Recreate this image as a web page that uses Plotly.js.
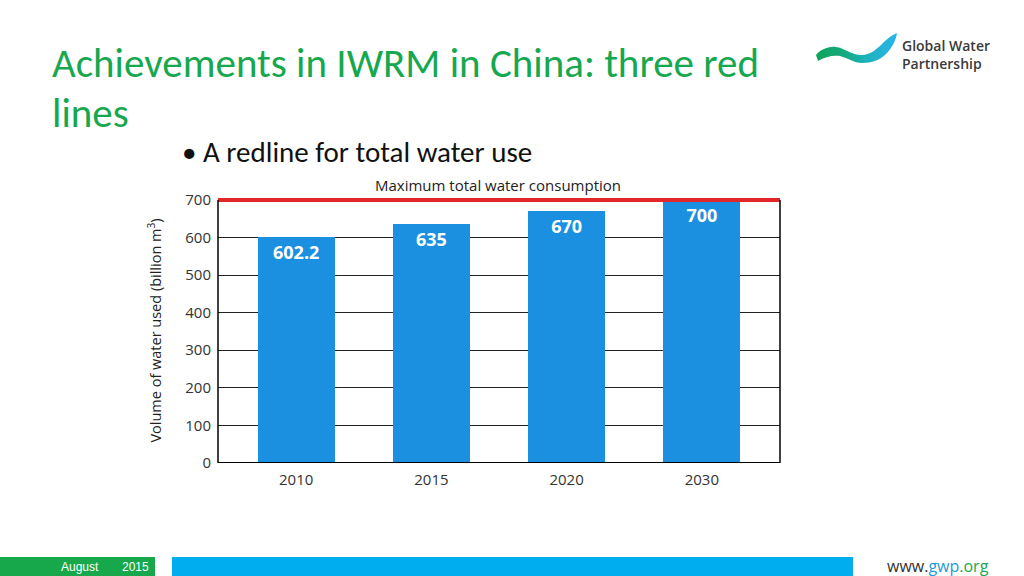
<!DOCTYPE html>
<html><head><meta charset="utf-8">
<script src="https://cdn.plot.ly/plotly-3.0.1.min.js"></script>
<style>
html,body{margin:0;padding:0;background:#fff;width:1024px;height:576px;overflow:hidden;}
#wrap{position:relative;width:1024px;height:576px;}
#chart{position:absolute;left:0;top:0;width:1024px;height:576px;}
#logo{position:absolute;left:0;top:0;pointer-events:none;}
</style></head>
<body><div id="wrap"><div id="chart"></div>
<svg id="logo" width="1024" height="120" viewBox="0 0 1024 120">
<defs><linearGradient id="g" gradientUnits="userSpaceOnUse" x1="815" x2="897" y1="0" y2="0">
<stop offset="0" stop-color="#0ea55a"/><stop offset="0.35" stop-color="#14a97c"/><stop offset="0.6" stop-color="#1bb2b8"/><stop offset="1" stop-color="#2ab4ec"/></linearGradient></defs>
<path d="M816,55 C820,50 828,46 836,47 C844,48 850,54 860,55 C870,56 878,48 884,42 C888,38 892,35 897,33 C896,40 892,48 886,54 C880,60 872,63 862,63 C854,63 848,58 840,56 C832,55 825,57 818,61 Z" fill="url(#g)"/>
</svg>
</div>
<script>
const years = ['2010', '2015', '2020', '2030'];
const waterUse = [602.2, 635, 670, 700];
const barLabels = ['602.2', '635', '670', '700'];
const redline = 700;
const yTicks = [0, 100, 200, 300, 400, 500, 600, 700];

const L = 218, R = 780, T = 198, B = 463;
const yMax = 705;
const px = x => (x - L) / (R - L);
const py = y => (B - y) / (B - T);
const xpos = years.map((_, i) => i);
const xr = [-0.578, 3.578];

const bars = {
  type: 'bar', x: xpos, y: waterUse, width: 0.57,
  marker: {color: '#1b90e0'},
  text: barLabels, textposition: 'inside', insidetextanchor: 'end',
  textfont: {family: 'Open Sans, sans-serif', size: 18, color: '#ffffff', weight: 700},
  hoverinfo: 'none'
};
const redTrace = {
  type: 'scatter', mode: 'lines', x: xr, y: [redline, redline],
  line: {color: '#e3262a', width: 4}, cliponaxis: false, hoverinfo: 'none'
};

const font = 'Open Sans, sans-serif';
const slideFont = 'Carlito, Liberation Sans Narrow, Open Sans, sans-serif';
const layout = {
  width: 1024, height: 576,
  margin: {l: L, r: 1024 - R, t: T, b: 576 - B, pad: 0},
  paper_bgcolor: '#ffffff', plot_bgcolor: '#ffffff',
  showlegend: false, bargap: 0,
  xaxis: {range: xr, tickvals: xpos, ticktext: years, showgrid: false,
    zeroline: false, showline: false, ticks: '', ticklabelstandoff: 6,
    tickfont: {family: font, size: 15, color: '#333'}, fixedrange: true},
  yaxis: {range: [0, yMax], tickvals: yTicks, showgrid: true, gridcolor: '#222', gridwidth: 1,
    zeroline: false, showline: false, ticks: '', ticklabelstandoff: 6,
    tickfont: {family: font, size: 15, color: '#333'},
    title: {text: 'Volume of water used (billion m<sup>3</sup>)', font: {family: font, size: 14.5, color: '#222'}, standoff: 20},
    fixedrange: true},
  shapes: [
    {type: 'line', xref: 'paper', yref: 'y', x0: 0, x1: 1, y0: 0, y1: 0, line: {color: '#000', width: 2}},
    {type: 'line', xref: 'paper', yref: 'y', x0: 0, x1: 0, y0: 0, y1: redline, line: {color: '#000', width: 1.5}},
    {type: 'line', xref: 'paper', yref: 'y', x0: 1, x1: 1, y0: 0, y1: redline, line: {color: '#000', width: 1.5}},
    {type: 'rect', xref: 'paper', yref: 'paper', x0: px(0), x1: px(155), y0: py(557), y1: py(580), fillcolor: '#16a84b', line: {width: 0}, layer: 'above'},
    {type: 'rect', xref: 'paper', yref: 'paper', x0: px(172), x1: px(853), y0: py(557), y1: py(580), fillcolor: '#00aeef', line: {width: 0}, layer: 'above'}
  ],
  annotations: [
    {xref: 'paper', yref: 'paper', x: px(51), y: py(63), xanchor: 'left', yanchor: 'middle', showarrow: false, borderpad: 0,
      text: 'Achievements in IWRM in China: three red', font: {family: slideFont, size: 41, color: '#17a84f'}},
    {xref: 'paper', yref: 'paper', x: px(51), y: py(113), xanchor: 'left', yanchor: 'middle', showarrow: false, borderpad: 0,
      text: 'lines', font: {family: slideFont, size: 41, color: '#17a84f'}},
    {xref: 'paper', yref: 'paper', x: px(180), y: py(152), xanchor: 'left', yanchor: 'middle', showarrow: false,
      text: '• A redline for total water use', font: {family: slideFont, size: 29, color: '#111'}},
    {xref: 'paper', yref: 'paper', x: px(498), y: py(185), xanchor: 'center', yanchor: 'middle', showarrow: false,
      text: 'Maximum total water consumption', font: {family: font, size: 15, color: '#222'}},
    {xref: 'paper', yref: 'paper', x: px(900), y: py(55), xanchor: 'left', yanchor: 'middle', showarrow: false, align: 'left',
      text: 'Global Water<br>Partnership', font: {family: font, size: 14, color: '#3a3a3a', weight: 600}},
    {xref: 'paper', yref: 'paper', x: px(80), y: py(567), xanchor: 'center', yanchor: 'middle', showarrow: false,
      text: 'August', font: {family: 'Liberation Sans Narrow, sans-serif', size: 12, color: '#fff'}},
    {xref: 'paper', yref: 'paper', x: px(135), y: py(567), xanchor: 'center', yanchor: 'middle', showarrow: false,
      text: '2015', font: {family: 'Liberation Sans Narrow, sans-serif', size: 12, color: '#fff'}},
    {xref: 'paper', yref: 'paper', x: px(938), y: py(566), xanchor: 'center', yanchor: 'middle', showarrow: false,
      text: 'www.<span style="color:#1e9ad6">gwp</span><span style="color:#17a84f">.org</span>', font: {family: font, size: 16, color: '#333'}}
  ]
};

Plotly.newPlot('chart', [bars, redTrace], layout, {staticPlot: true, displayModeBar: false});
</script>
</body></html>
